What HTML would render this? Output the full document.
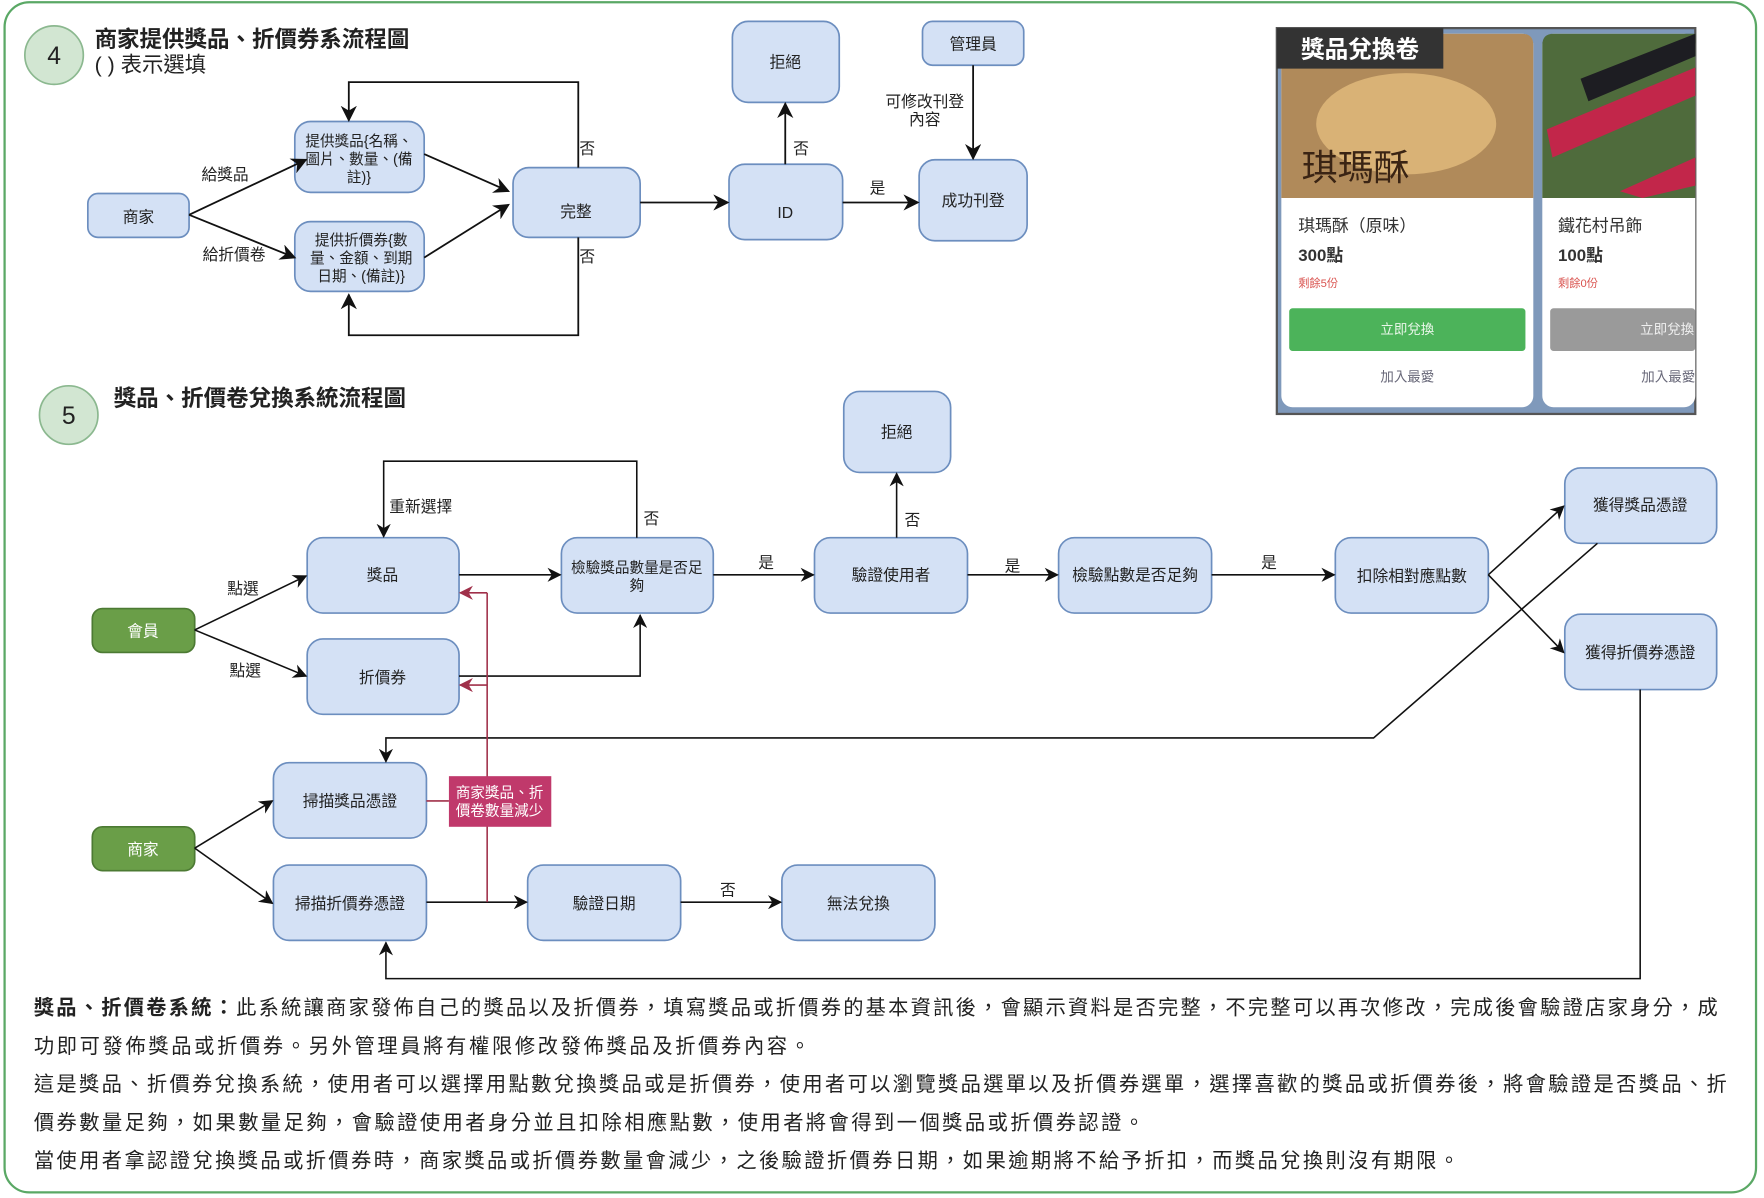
<!DOCTYPE html>
<html><head><meta charset="utf-8">
<style>
html,body{margin:0;padding:0;background:#fff;}
svg{display:block;}
text{font-family:"Liberation Sans","Noto Sans CJK TC",sans-serif;}
</style></head>
<body>
<svg width="1764" height="1198" viewBox="0 0 1568 1065" xmlns="http://www.w3.org/2000/svg">
<defs>
<marker id="a" viewBox="0 0 10 10" refX="9" refY="5" markerWidth="9" markerHeight="9" orient="auto-start-reverse"><path d="M0,0 L10,5 L0,10 L3,5 z" fill="#111"/></marker>
<marker id="r" viewBox="0 0 10 10" refX="9" refY="5" markerWidth="9" markerHeight="9" orient="auto-start-reverse"><path d="M0,0 L10,5 L0,10 L3,5 z" fill="#a0304a"/></marker>
</defs>
<rect x="0" y="0" width="1568" height="1065" fill="#fff"/>
<rect x="4" y="2" width="1557" height="1058" rx="22" fill="none" stroke="#5aa865" stroke-width="2"/>

<g font-size="14" fill="#222" text-anchor="middle">
<!-- Section 4 -->
<circle cx="48" cy="49" r="26" fill="#d2e6d2" stroke="#8bb88f" stroke-width="1.5"/>
<text x="48" y="57" font-size="22">4</text>
<text x="84" y="42" font-size="20" font-weight="bold" text-anchor="start">商家提供獎品、折價券系流程圖</text>
<text x="84" y="64" font-size="19" text-anchor="start">( ) 表示選填</text>

<g fill="#d4e1f5" stroke="#6c8ebf" stroke-width="1.5">
<rect x="78" y="172" width="90" height="39" rx="9"/>
<rect x="262" y="108" width="115" height="63" rx="14"/>
<rect x="262" y="197" width="115" height="62" rx="14"/>
<rect x="456" y="149" width="113" height="62" rx="14"/>
<rect x="648" y="146" width="101" height="67" rx="14"/>
<rect x="651" y="19" width="95" height="72" rx="14"/>
<rect x="817" y="142" width="96" height="72" rx="14"/>
<rect x="820" y="19" width="90" height="39" rx="9"/>
</g>
<text x="123" y="198">商家</text>
<text x="319" y="130" font-size="13">提供獎品{名稱、</text>
<text x="319" y="146" font-size="13">圖片、數量、(備</text>
<text x="319" y="162" font-size="13">註)}</text>
<text x="321" y="218" font-size="13">提供折價券{數</text>
<text x="321" y="234" font-size="13">量、金額、到期</text>
<text x="321" y="250" font-size="13">日期、(備註)}</text>
<text x="512" y="193">完整</text>
<text x="698" y="194">ID</text>
<text x="698" y="60">拒絕</text>
<text x="865" y="183">成功刊登</text>
<text x="865" y="44">管理員</text>

<g stroke="#111" stroke-width="1.6" fill="none" marker-end="url(#a)">
<line x1="168" y1="191" x2="272" y2="142"/>
<line x1="168" y1="191" x2="262" y2="229"/>
<line x1="377" y1="137" x2="452" y2="170"/>
<line x1="377" y1="229" x2="452" y2="182"/>
<polyline points="514,149 514,73 310,73 310,107"/>
<polyline points="514,211 514,298 310,298 310,262"/>
<line x1="569" y1="180" x2="647" y2="180"/>
<line x1="698" y1="146" x2="698" y2="92"/>
<line x1="749" y1="180" x2="816" y2="180"/>
<line x1="865" y1="58" x2="865" y2="141"/>
</g>
<text x="200" y="160">給獎品</text>
<text x="208" y="231">給折價卷</text>
<text x="522" y="137">否</text>
<text x="522" y="233">否</text>
<text x="712" y="137">否</text>
<text x="780" y="172">是</text>
<text x="822" y="95">可修改刊登</text>
<text x="822" y="111">內容</text>

<!-- Screenshot -->
<rect x="1135" y="25" width="372" height="343" fill="#7f99bb" stroke="#555" stroke-width="2"/>
<rect x="1139" y="30" width="224" height="332" rx="10" fill="#fff"/>
<path d="M1139,40 Q1139,30 1149,30 L1353,30 Q1363,30 1363,40 L1363,176 L1139,176 Z" fill="#b08a5a"/>
<ellipse cx="1250" cy="110" rx="80" ry="45" fill="#d9b276"/>
<text x="1205" y="160" font-size="32" fill="#3a2414" font-family="'Noto Serif CJK SC',serif">琪瑪酥</text>
<rect x="1371" y="30" width="136" height="332" rx="10" fill="#fff"/>
<path d="M1371,40 Q1371,30 1381,30 L1507,30 L1507,176 L1371,176 Z" fill="#4f6b3c"/>
<path d="M1375,115 L1507,60 L1507,85 L1380,140 Z" fill="#c2264a"/>
<path d="M1405,70 L1507,30 L1507,50 L1412,90 Z" fill="#1d1d22"/>
<path d="M1440,170 L1507,140 L1507,165 L1460,176 Z" fill="#c2264a"/>
<rect x="1135" y="25" width="148" height="36" fill="#333"/>
<text x="1209" y="51" font-size="21" font-weight="bold" fill="#fff">獎品兌換卷</text>
<g text-anchor="start">
<text x="1154" y="206" font-size="15" fill="#333">琪瑪酥（原味）</text>
<text x="1154" y="232" font-size="15" font-weight="bold" fill="#333">300點</text>
<text x="1154" y="255" font-size="10" fill="#d9534f">剩餘5份</text>
<text x="1385" y="206" font-size="15" fill="#333">鐵花村吊飾</text>
<text x="1385" y="232" font-size="15" font-weight="bold" fill="#333">100點</text>
<text x="1385" y="255" font-size="10" fill="#d9534f">剩餘0份</text>
</g>
<rect x="1146" y="274" width="210" height="38" rx="3" fill="#4cb35a"/>
<text x="1251" y="297" font-size="12" fill="#eaf7ea">立即兌換</text>
<rect x="1378" y="274" width="129" height="38" rx="3" fill="#9a9a9a"/>
<text x="1482" y="297" font-size="12" fill="#f0f0f0">立即兌換</text>
<text x="1251" y="339" font-size="12" fill="#667">加入最愛</text>
<text x="1483" y="339" font-size="12" fill="#667">加入最愛</text>

<!-- Section 5 -->
<circle cx="61" cy="369" r="26" fill="#d2e6d2" stroke="#8bb88f" stroke-width="1.5"/>
<text x="61" y="377" font-size="22">5</text>
<text x="101" y="361" font-size="20" font-weight="bold" text-anchor="start">獎品、折價卷兌換系統流程圖</text>

<g fill="#d4e1f5" stroke="#6c8ebf" stroke-width="1.5">
<rect x="273" y="478" width="135" height="67" rx="14"/>
<rect x="273" y="568" width="135" height="67" rx="14"/>
<rect x="499" y="478" width="135" height="67" rx="14"/>
<rect x="750" y="348" width="95" height="72" rx="14"/>
<rect x="724" y="478" width="136" height="67" rx="14"/>
<rect x="941" y="478" width="136" height="67" rx="14"/>
<rect x="1187" y="478" width="136" height="67" rx="14"/>
<rect x="1391" y="416" width="135" height="67" rx="14"/>
<rect x="1391" y="546" width="135" height="67" rx="14"/>
<rect x="243" y="678" width="136" height="67" rx="14"/>
<rect x="243" y="769" width="136" height="67" rx="14"/>
<rect x="469" y="769" width="136" height="67" rx="14"/>
<rect x="695" y="769" width="136" height="67" rx="14"/>
</g>
<g fill="#6a9e48" stroke="#4c7a33" stroke-width="1.5">
<rect x="82" y="541" width="91" height="39" rx="9"/>
<rect x="82" y="735" width="91" height="39" rx="9"/>
</g>
<text x="127" y="566" fill="#fff">會員</text>
<text x="127" y="760" fill="#fff">商家</text>
<text x="340" y="516">獎品</text>
<text x="340" y="607">折價券</text>
<text x="566" y="509" font-size="13">檢驗獎品數量是否足</text>
<text x="566" y="525" font-size="13">夠</text>
<text x="797" y="389">拒絕</text>
<text x="792" y="516">驗證使用者</text>
<text x="1009" y="516">檢驗點數是否足夠</text>
<text x="1255" y="517">扣除相對應點數</text>
<text x="1458" y="454">獲得獎品憑證</text>
<text x="1458" y="585">獲得折價券憑證</text>
<text x="311" y="717">掃描獎品憑證</text>
<text x="311" y="808">掃描折價券憑證</text>
<text x="537" y="808">驗證日期</text>
<text x="763" y="808">無法兌換</text>

<g stroke="#111" stroke-width="1.4" fill="none" marker-end="url(#a)">
<line x1="173" y1="560" x2="272" y2="512"/>
<line x1="173" y1="560" x2="272" y2="601"/>
<line x1="408" y1="511" x2="498" y2="511"/>
<polyline points="408,601 569,601 569,547"/>
<polyline points="566,478 566,410 341,410 341,477"/>
<line x1="634" y1="511" x2="723" y2="511"/>
<line x1="797" y1="478" x2="797" y2="421"/>
<line x1="860" y1="511" x2="940" y2="511"/>
<line x1="1077" y1="511" x2="1186" y2="511"/>
<line x1="1323" y1="511" x2="1390" y2="450"/>
<line x1="1323" y1="511" x2="1390" y2="580"/>
<polyline points="1420,483 1221,656 343,656 343,677"/>
<polyline points="1458,613 1458,870 343,870 343,838"/>
<line x1="173" y1="754" x2="242" y2="712"/>
<line x1="173" y1="754" x2="242" y2="803"/>
<line x1="379" y1="802" x2="468" y2="802"/>
<line x1="605" y1="802" x2="694" y2="802"/>
</g>
<g stroke="#a0304a" stroke-width="1.4" fill="none">
<polyline points="433,802 433,527"/>
<line x1="379" y1="712" x2="399" y2="712"/>
<line x1="433" y1="527" x2="409" y2="527" marker-end="url(#r)"/>
<line x1="433" y1="609" x2="409" y2="609" marker-end="url(#r)"/>
</g>
<rect x="399" y="690" width="91" height="45" fill="#c0396b"/>
<text x="444" y="709" font-size="13" fill="#fff">商家獎品、折</text>
<text x="444" y="725" font-size="13" fill="#fff">價卷數量減少</text>

<text x="216" y="528">點選</text>
<text x="218" y="601">點選</text>
<text x="374" y="455">重新選擇</text>
<text x="579" y="466">否</text>
<text x="681" y="505">是</text>
<text x="811" y="467">否</text>
<text x="900" y="508">是</text>
<text x="1128" y="505">是</text>
<text x="647" y="796">否</text>
</g>

<g font-size="18" fill="#222">
<text x="30" y="902" textLength="1497" lengthAdjust="spacing"><tspan font-weight="bold">獎品、折價卷系統：</tspan>此系統讓商家發佈自己的獎品以及折價券，填寫獎品或折價券的基本資訊後，會顯示資料是否完整，不完整可以再次修改，完成後會驗證店家身分，成</text>
<text x="30" y="936" textLength="690" lengthAdjust="spacing">功即可發佈獎品或折價券。另外管理員將有權限修改發佈獎品及折價券內容。</text>
<text x="30" y="970" textLength="1505" lengthAdjust="spacing">這是獎品、折價券兌換系統，使用者可以選擇用點數兌換獎品或是折價券，使用者可以瀏覽獎品選單以及折價券選單，選擇喜歡的獎品或折價券後，將會驗證是否獎品、折</text>
<text x="30" y="1004" textLength="987" lengthAdjust="spacing">價券數量足夠，如果數量足夠，會驗證使用者身分並且扣除相應點數，使用者將會得到一個獎品或折價券認證。</text>
<text x="30" y="1038" textLength="1267" lengthAdjust="spacing">當使用者拿認證兌換獎品或折價券時，商家獎品或折價券數量會減少，之後驗證折價券日期，如果逾期將不給予折扣，而獎品兌換則沒有期限。</text>
</g>
</svg>
</body></html>
